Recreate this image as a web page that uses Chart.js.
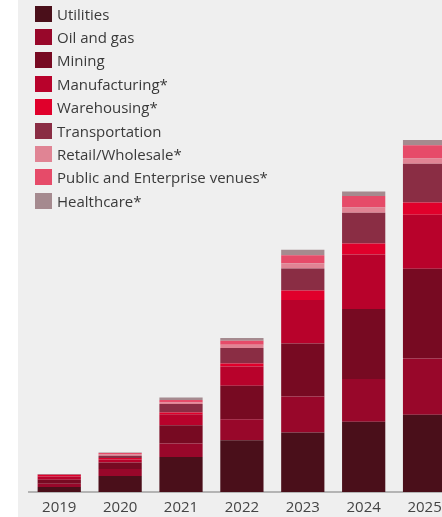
<!DOCTYPE html>
<html>
<head>
<meta charset="utf-8">
<script src="https://cdn.jsdelivr.net/npm/chart.js@4.4.1/dist/chart.umd.min.js"></script>
<style>
  html, body { margin: 0; padding: 0; width: 442px; height: 517px; overflow: hidden; background: #ffffff; }
  #panel { position: absolute; left: 18px; top: 0; width: 424px; height: 517px; background: #efefef; }
  #wrap { position: absolute; left: 0; top: 0; width: 455px; height: 526px; }
  #legend { position: absolute; left: 35px; top: 2px; font-family: "Open Sans", sans-serif; font-size: 15px; color: #3a3a3a; }
  .item { height: 23.4px; display: flex; align-items: center; }
  .sw { width: 17px; height: 16px; margin-right: 5px; flex: none; }
</style>
</head>
<body>
<div id="panel"></div>
<div id="wrap"><canvas id="c"></canvas></div>
<div id="legend"></div>
<script>
const years = ["2019", "2020", "2021", "2022", "2023", "2024", "2025"];
const seriesNames = ["Utilities", "Oil and gas", "Mining", "Manufacturing*", "Warehousing*", "Transportation", "Retail/Wholesale*", "Public and Enterprise venues*", "Healthcare*"];
const seriesColors = ["#4a0f1a", "#98072a", "#770a22", "#b8022b", "#e0002b", "#8a2d44", "#e08494", "#e64b69", "#a58a8f"];

const utilities      = [5.0, 16.0, 35.0, 51.7, 59.3, 70.0, 77.0];
const oilAndGas      = [3.3, 7.0, 13.3, 21.0, 36.0, 42.7, 56.3];
const mining         = [4.0, 6.5, 18.4, 33.3, 53.0, 70.0, 89.4];
const manufacturing  = [3.2, 3.0, 11.0, 19.3, 43.4, 54.3, 54.0];
const warehousing    = [1.5, 1.5, 1.6, 3.0, 9.3, 11.0, 12.3];
const transportation = [0.5, 2.3, 8.4, 15.4, 22.0, 30.7, 38.7];
const retail         = [0.2, 1.0, 1.6, 3.3, 5.3, 5.3, 5.0];
const publicVenues   = [0.3, 1.5, 2.4, 4.0, 8.0, 11.3, 13.3];
const healthcare     = [0.0, 0.5, 2.6, 2.7, 5.4, 4.7, 5.3];

const seriesValues = [utilities, oilAndGas, mining, manufacturing, warehousing, transportation, retail, publicVenues, healthcare];

const datasets = seriesNames.map((name, i) => ({
  label: name,
  data: seriesValues[i],
  backgroundColor: seriesColors[i],
  borderWidth: 0,
  barPercentage: 0.71,
  categoryPercentage: 1.0
}));

new Chart(document.getElementById("c"), {
  type: "bar",
  data: { labels: years, datasets },
  options: {
    responsive: true,
    maintainAspectRatio: false,
    animation: false,
    layout: { padding: { left: 28.8, right: 0, top: 0, bottom: 2 } },
    plugins: { legend: { display: false }, tooltip: { enabled: false } },
    scales: {
      x: {
        stacked: true,
        grid: { display: false, drawTicks: false },
        border: { display: true, color: "#b4b4b4", width: 2 },
        ticks: { color: "#444444", font: { family: "Open Sans", size: 15 }, padding: 7 }
      },
      y: {
        stacked: true,
        display: false,
        min: 0,
        max: 491
      }
    }
  }
});

const legend = document.getElementById("legend");
seriesNames.forEach((name, i) => {
  const row = document.createElement("div");
  row.className = "item";
  const sw = document.createElement("span");
  sw.className = "sw";
  sw.style.background = seriesColors[i];
  const t = document.createElement("span");
  t.textContent = name;
  row.appendChild(sw);
  row.appendChild(t);
  legend.appendChild(row);
});
</script>
</body>
</html>
